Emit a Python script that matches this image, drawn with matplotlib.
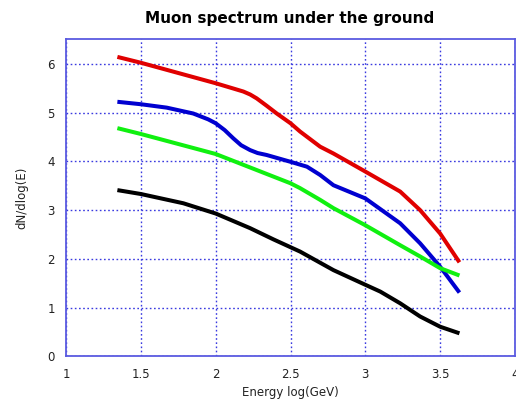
import numpy as np
import matplotlib
matplotlib.use("Agg")
import matplotlib.pyplot as plt

# valores
energy_red = [1.343, 1.5, 2.0, 2.12, 2.185, 2.23, 2.274, 2.34, 2.408, 2.5, 2.564, 2.698, 2.787, 3.0, 3.233, 3.366, 3.5, 3.629]
red = [6.14, 6.02, 5.60, 5.49, 5.43, 5.37, 5.29, 5.14, 4.98, 4.78, 4.61, 4.30, 4.16, 3.79, 3.38, 3.00, 2.52, 1.93]

energy_blue = [1.343, 1.5, 1.673, 1.85, 1.95, 2.0, 2.06, 2.118, 2.17, 2.23, 2.28, 2.34, 2.5, 2.61, 2.698, 2.787, 3.0, 3.233, 3.366, 3.5, 3.629]
blue = [5.22, 5.17, 5.10, 4.98, 4.86, 4.78, 4.64, 4.47, 4.33, 4.23, 4.17, 4.13, 3.99, 3.89, 3.72, 3.51, 3.24, 2.73, 2.32, 1.84, 1.31]

energy_green = [1.343, 1.5, 2.0, 2.5, 2.564, 2.698, 2.787, 3.0, 3.233, 3.366, 3.5, 3.629]
green = [4.68, 4.56, 4.15, 3.55, 3.45, 3.21, 3.04, 2.69, 2.28, 2.05, 1.81, 1.66]

energy_black = [1.343, 1.5, 1.784, 2.0, 2.23, 2.386, 2.564, 2.787, 3.0, 3.1, 3.233, 3.366, 3.5, 3.629]
black = [3.41, 3.33, 3.14, 2.93, 2.63, 2.40, 2.15, 1.77, 1.47, 1.33, 1.09, 0.82, 0.61, 0.475]

xticks = [1, 1.5, 2, 2.5, 3, 3.5, 4]
xticklabels = ["1", "1.5", "2", "2.5", "3", "3.5", "4"]
yticks = [0, 1, 2, 3, 4, 5, 6]

fig = plt.figure(figsize=(5.16, 4.03), dpi=100)
ax = fig.add_axes([0.128, 0.1154, 0.870, 0.787])

ax.plot(energy_red, red, color='#e00000', lw=2.9, solid_capstyle='butt', solid_joinstyle='round')
ax.plot(energy_blue, blue, color='#0000d0', lw=2.9, solid_capstyle='butt', solid_joinstyle='round')
ax.plot(energy_green, green, color='#10f010', lw=2.9, solid_capstyle='butt', solid_joinstyle='round')
ax.plot(energy_black, black, color='black', lw=2.9, solid_capstyle='butt', solid_joinstyle='round')

ax.set_xlim(1, 4)
ax.set_ylim(0, 6.5)
ax.set_xticks(xticks)
ax.set_xticklabels(xticklabels)
ax.set_yticks(yticks)
ax.tick_params(length=0, labelsize=8.5, colors='#222222', pad=8)
ax.grid(True, color='#3a3ae0', linestyle=(0, (1.2, 1.8)), lw=1.0)
for s in ax.spines.values():
    s.set_color('#5a5ae0')
    s.set_linewidth(1.3)

ax.set_xlabel("Energy log(GeV)", fontsize=8.5, color='#222222', labelpad=4)
ax.set_ylabel("dN/dlog(E)", fontsize=8.5, color='#222222', labelpad=14)
fig.text(0.562, 0.955, "Muon spectrum under the ground", ha='center', va='center',
         fontsize=11, fontweight='bold', family='DejaVu Sans')

fig.savefig("out.png", dpi=100)
